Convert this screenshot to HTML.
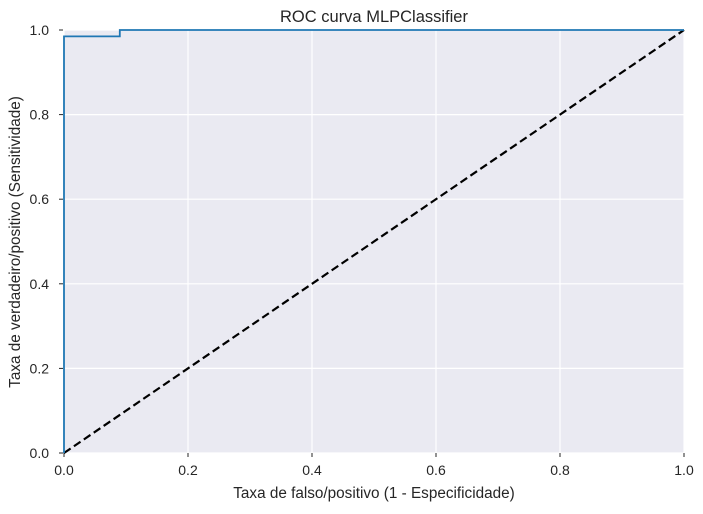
<!DOCTYPE html>
<html><head><meta charset="utf-8"><style>
body{margin:0;background:#fff;width:703px;height:509px;overflow:hidden}
svg text{font-family:"Liberation Sans",sans-serif;fill:#262626}
</style></head><body>
<svg id="chart" width="703" height="509" xmlns="http://www.w3.org/2000/svg">
<rect x="64" y="30" width="620" height="423" fill="#eaeaf2"/>
<g id="grid"></g>
<g id="ticks"></g>
<path id="diag" fill="none" stroke="#000" stroke-width="2.2" stroke-dasharray="8,4"/>
<path id="roc" fill="none" stroke="#1f77b4" stroke-width="1.8"/>
<text x="374" y="22" font-size="16.5" text-anchor="middle">ROC curva MLPClassifier</text>
<text x="374" y="498" font-size="15.3" text-anchor="middle">Taxa de falso/positivo (1 - Especificidade)</text>
<text transform="translate(20,242) rotate(-90)" font-size="15.3" text-anchor="middle">Taxa de verdadeiro/positivo (Sensitividade)</text>
</svg>
<script>
const xTicks=[0,0.2,0.4,0.6,0.8,1.0];
const yTicks=[0,0.2,0.4,0.6,0.8,1.0];
const fpr=[0,0,0.09,0.09,1.0];
const tpr=[0,0.985,0.985,1.0,1.0];
const diagX=[0,1];
const diagY=[0,1];
const L=64,R=684,T=30,B=453;
const sx=v=>L+v*(R-L), sy=v=>B-v*(B-T);
const ns="http://www.w3.org/2000/svg";
const grid=document.getElementById('grid'),ticks=document.getElementById('ticks');
function mk(tag,a,p){const e=document.createElementNS(ns,tag);for(const k in a)e.setAttribute(k,a[k]);p.appendChild(e);return e;}
xTicks.forEach(v=>{
 const g=mk('line',{x1:sx(v),x2:sx(v),y1:T,y2:B,stroke:'#fff','stroke-width':1.2},grid);
 
 
 const t=mk('line',{x1:sx(v),x2:sx(v),y1:B,y2:B+4,stroke:'#262626','stroke-width':1},ticks);
 
 
 const l=mk('text',{x:sx(v),y:B+22,'font-size':14,'text-anchor':'middle'},ticks);
 l.textContent=v.toFixed(1);
 
 
});
yTicks.forEach(v=>{
 const g=mk('line',{x1:L,x2:R,y1:sy(v),y2:sy(v),stroke:'#fff','stroke-width':1.2},grid);
 
 
 const t=mk('line',{x1:L-5,x2:L-1,y1:sy(v),y2:sy(v),stroke:'#262626','stroke-width':1},ticks);
 
 
 const l=mk('text',{x:L-15,y:sy(v)+5,'font-size':14,'text-anchor':'end'},ticks);
 l.textContent=v.toFixed(1);
 
 
});
document.getElementById('roc').setAttribute('d',fpr.map((v,i)=>(i?'L':'M')+sx(v)+','+sy(tpr[i])).join(''));
document.getElementById('diag').setAttribute('d',diagX.map((v,i)=>(i?'L':'M')+sx(v)+','+sy(diagY[i])).join(''));
</script>
</body></html>
